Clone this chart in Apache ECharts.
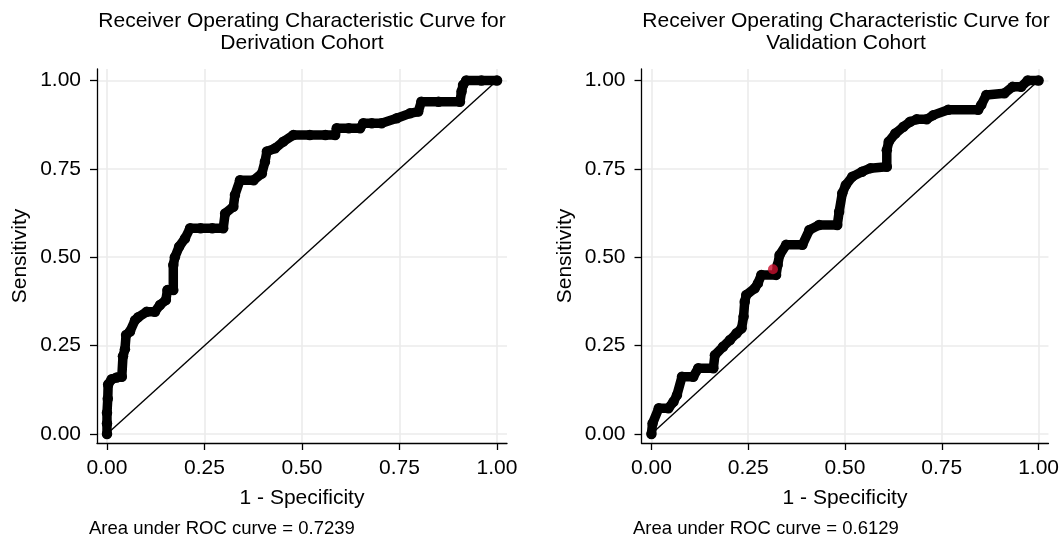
<!DOCTYPE html>
<html>
<head>
<meta charset="utf-8">
<script src="https://cdn.jsdelivr.net/npm/echarts@6/dist/echarts.min.js"></script>
<style>
  html, body { margin: 0; padding: 0; background: #fff; }
  #chart { width: 1062px; height: 540px; }
</style>
</head>
<body>
<div id="chart"></div>
<script>
'use strict';

var ticks = [0, 0.25, 0.5, 0.75, 1];

// derivation cohort: 1 - specificity / sensitivity
var derivFpr = [0, 0, 0, 0.002, 0.003, 0.012, 0.025, 0.038, 0.041, 0.046, 0.049, 0.059,
  0.072, 0.08, 0.102, 0.123, 0.136, 0.151, 0.155, 0.17, 0.17, 0.174, 0.185, 0.2, 0.213,
  0.24, 0.27, 0.298, 0.303, 0.324, 0.328, 0.341, 0.376, 0.397, 0.405, 0.41, 0.431, 0.452,
  0.478, 0.52, 0.56, 0.585, 0.589, 0.62, 0.649, 0.657, 0.679, 0.704, 0.743, 0.777, 0.798,
  0.806, 0.85, 0.905, 0.909, 0.913, 0.921, 0.96, 1];
var derivSens = [0, 0.03, 0.06, 0.10, 0.14, 0.155, 0.16, 0.162, 0.22, 0.24, 0.28, 0.29,
  0.322, 0.33, 0.346, 0.346, 0.365, 0.379, 0.407, 0.407, 0.478, 0.50, 0.53, 0.553, 0.582,
  0.582, 0.582, 0.582, 0.624, 0.643, 0.676, 0.718, 0.718, 0.737, 0.77, 0.799, 0.808, 0.827,
  0.846, 0.846, 0.846, 0.846, 0.865, 0.865, 0.865, 0.879, 0.879, 0.879, 0.893, 0.907, 0.912,
  0.94, 0.94, 0.94, 0.969, 0.987, 1.0, 1.0, 1.0];

// validation cohort
var validFpr = [0, 0.003, 0.019, 0.044, 0.057, 0.066, 0.079, 0.108, 0.121, 0.16, 0.164,
  0.185, 0.203, 0.22, 0.233, 0.238, 0.241, 0.245, 0.267, 0.275, 0.284, 0.322, 0.326, 0.331,
  0.348, 0.39, 0.408, 0.433, 0.48, 0.485, 0.493, 0.502, 0.519, 0.544, 0.566, 0.608, 0.608,
  0.613, 0.63, 0.651, 0.668, 0.685, 0.711, 0.728, 0.767, 0.844, 0.852, 0.865, 0.912, 0.933,
  0.955, 0.972, 1];
var validSens = [0, 0.03, 0.073, 0.073, 0.091, 0.11, 0.162, 0.162, 0.186, 0.186, 0.223,
  0.247, 0.266, 0.285, 0.299, 0.332, 0.374, 0.393, 0.412, 0.426, 0.45, 0.45, 0.478, 0.506,
  0.535, 0.535, 0.577, 0.591, 0.591, 0.629, 0.681, 0.704, 0.728, 0.742, 0.752, 0.756, 0.803,
  0.827, 0.85, 0.869, 0.883, 0.89, 0.89, 0.902, 0.917, 0.917, 0.931, 0.959, 0.964, 0.982,
  0.982, 1.0, 1];
var validCutoff = [0.314, 0.466];

var titles = ['Receiver Operating Characteristic Curve for\nDerivation Cohort',
              'Receiver Operating Characteristic Curve for\nValidation Cohort'];
var aucText = ['Area under ROC curve = 0.7239', 'Area under ROC curve = 0.6129'];

var FONT = '"Liberation Sans", Arial, Helvetica, sans-serif';

function pairs(xs, ys) {
  var out = [];
  for (var i = 0; i < xs.length; i++) out.push([xs[i], ys[i]]);
  return out;
}

function xAxisFor(idx) {
  return {
    type: 'value', gridIndex: idx, min: -0.0256, max: 1.0256,
    name: '1 - Specificity', nameLocation: 'middle', nameGap: 45,
    nameTextStyle: { fontFamily: FONT, fontSize: 21, color: '#000' },
    axisLine: { onZero: false, lineStyle: { color: '#000', width: 1.3 } },
    axisTick: { customValues: ticks, length: 7, lineStyle: { color: '#000', width: 1.3 } },
    axisLabel: { customValues: ticks, margin: 15, fontFamily: FONT, fontSize: 21, color: '#000',
      formatter: function(v) { return v.toFixed(2); } },
    splitLine: { show: true, lineStyle: { color: '#ebebeb', width: 1.6 } }
  };
}

function yAxisFor(idx) {
  return {
    type: 'value', gridIndex: idx, min: -0.0255, max: 1.0325,
    name: 'Sensitivity', nameLocation: 'middle', nameGap: 66,
    nameTextStyle: { fontFamily: FONT, fontSize: 21, color: '#000' },
    axisLine: { onZero: false, lineStyle: { color: '#000', width: 1.3 } },
    axisTick: { customValues: ticks, length: 7, lineStyle: { color: '#000', width: 1.3 } },
    axisLabel: { customValues: ticks, margin: 16, fontFamily: FONT, fontSize: 21, color: '#000',
      formatter: function(v) { return v.toFixed(2); } },
    splitLine: { show: true, lineStyle: { color: '#ebebeb', width: 1.6 } }
  };
}

function rocSeries(idx, data) {
  return {
    type: 'line', xAxisIndex: idx, yAxisIndex: idx, data: data,
    symbol: 'circle', symbolSize: 10.5, showSymbol: true,
    itemStyle: { color: '#000' },
    lineStyle: { color: '#000', width: 9.5, cap: 'round', join: 'round' },
    silent: true, animation: false, z: 3
  };
}

function diagSeries(idx) {
  return {
    type: 'line', xAxisIndex: idx, yAxisIndex: idx, data: [[0, 0], [1, 1]],
    symbol: 'none', lineStyle: { color: '#000', width: 1.4 },
    silent: true, animation: false, z: 2
  };
}

var chart = echarts.init(document.getElementById('chart'));
chart.setOption({
  animation: false,
  grid: [
    { left: 97, top: 69, width: 410, height: 374 },
    { left: 641.5, top: 69, width: 410.5, height: 374 }
  ],
  xAxis: [xAxisFor(0), xAxisFor(1)],
  yAxis: [yAxisFor(0), yAxisFor(1)],
  series: [
    diagSeries(0),
    rocSeries(0, pairs(derivFpr, derivSens)),
    diagSeries(1),
    rocSeries(1, pairs(validFpr, validSens)),
    {
      type: 'scatter', xAxisIndex: 1, yAxisIndex: 1, data: [validCutoff],
      symbol: 'circle', symbolSize: 10, itemStyle: { color: '#c8102e' },
      silent: true, z: 4
    }
  ],
  graphic: [
    { type: 'text', x: 302, y: 32, style: { text: titles[0], font: '21px ' + FONT,
      textAlign: 'center', textVerticalAlign: 'middle', lineHeight: 22, fill: '#000' } },
    { type: 'text', x: 846, y: 32, style: { text: titles[1], font: '21px ' + FONT,
      textAlign: 'center', textVerticalAlign: 'middle', lineHeight: 22, fill: '#000' } },
    { type: 'text', x: 89, y: 529, style: { text: aucText[0], font: '18.5px ' + FONT,
      textAlign: 'left', textVerticalAlign: 'middle', fill: '#000' } },
    { type: 'text', x: 633, y: 529, style: { text: aucText[1], font: '18.5px ' + FONT,
      textAlign: 'left', textVerticalAlign: 'middle', fill: '#000' } }
  ]
});
</script>
</body>
</html>
